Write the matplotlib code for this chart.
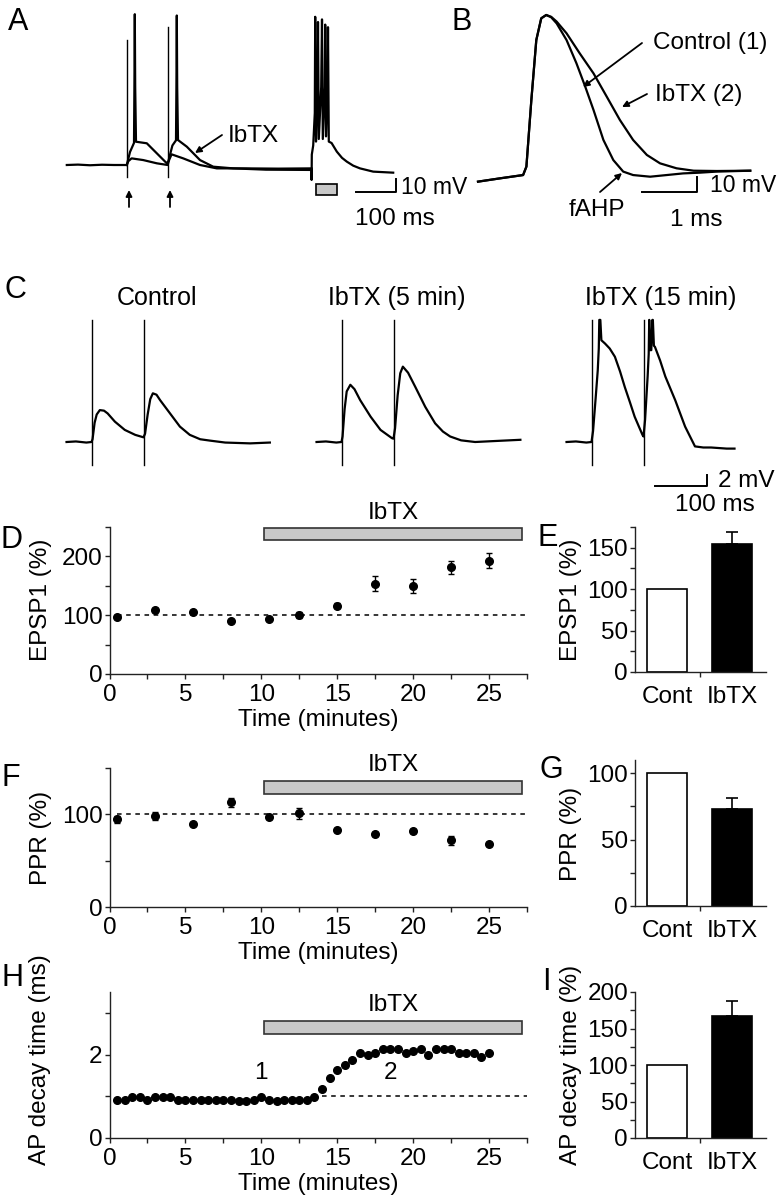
import matplotlib
matplotlib.use("Agg")
import matplotlib.pyplot as plt
from matplotlib.patches import Rectangle
import numpy as np

plt.rcParams['font.family'] = ['Liberation Sans', 'DejaVu Sans']

# ---------------- data ----------------
# A: paired stimulation + current step (ms, mV relative to rest)
a_base_t = [2, 30, 60, 90, 120, 152]
a_base_v = [0, 0.3, -0.2, 0.2, 0, 0]
a_ctrl_t = [152, 156, 164, 193, 227, 254, 258, 264, 293, 335, 377, 450, 530, 614]
a_ctrl_v = [0, 3, 5.1, 3.8, 1.3, 0, 4, 8.2, 5.1, 0, -2.6, -2.6, -2.8, -2.6]
a_ibtx_t = [152, 160, 170, 171, 172, 173, 175, 202, 227, 252, 256, 266, 275, 276,
            277, 278, 280, 302, 335, 368, 418, 500, 614]
a_ibtx_v = [0, 10, 17, 60, 116, 60, 17.9, 16.7, 9, 1.3, 3, 15, 19, 60,
            115, 60, 19.2, 14.1, 3.8, -1.3, -2.6, -3.6, -3.8]
a_burst_t = [614, 614, 614.5, 618, 622, 623, 625, 629, 630, 632, 638, 640, 642,
             647, 648, 650, 654, 655, 657, 664, 677, 690, 702, 718, 735, 768, 818]
a_burst_v = [-3.8, -11.5, 8, 15, 40, 114, 18, 60, 110, 20, 60, 112, 20,
             60, 108, 22, 60, 106, 18, 16.9, 10.3, 5.5, 2.6, -0.5, -2.6, -5.1, -5.9]
a_stim_t = [152, 255]
a_stim_top = [96, 106]

# B: single action potentials (ms, mV)
b_rise_t = [0, 0.40, 0.82, 0.88, 0.97, 1.06, 1.15, 1.24]
b_rise_v = [-1.1, 1.1, 3.3, 8.9, 53.3, 93.3, 107.8, 110]
b_ctrl_t = [1.33, 1.43, 1.61, 1.79, 1.95, 2.10, 2.28, 2.46, 2.64, 2.82, 3.13, 3.43, 3.73, 4.04, 4.34, 4.95]
b_ctrl_v = [108.5, 104.4, 93.3, 77.8, 62.2, 46.7, 26.7, 13.3, 5.6, 3.3, 2.2, 3.3, 4.4, 4.9, 5.6, 6.2]
b_ibtx_t = [1.33, 1.43, 1.61, 1.85, 2.10, 2.34, 2.58, 2.82, 3.07, 3.31, 3.61, 3.92, 4.34, 4.95]
b_ibtx_v = [108.8, 105.6, 97.8, 84.4, 71.1, 55.6, 40, 26.7, 16.7, 11.1, 7.8, 6.2, 6.0, 6.2]

# C: EPSP pairs (ms from first stimulus, mV)
c_titles = ['Control', 'IbTX (5 min)', 'IbTX (15 min)']
c_ctrl_t = [-48, -30, -10, 0, 2, 6, 10, 16, 24, 31, 45, 64, 84, 100, 103, 108, 113,
            118, 125, 132, 151, 170, 189, 209, 228, 257, 305, 343]
c_ctrl_v = [0, 0.1, -0.1, 0, 0.5, 3.5, 5.0, 5.8, 5.7, 5.2, 3.7, 2.2, 1.3, 0.85, 1.5, 5.0, 7.8,
            8.85, 8.6, 7.6, 5.2, 2.8, 1.3, 0.5, 0.25, -0.1, -0.25, -0.1]
c_ib5_t = [-48, -30, -10, 0, 2, 6, 10, 17, 25, 36, 56, 75, 97, 100, 103, 108, 113, 118,
           128, 142, 161, 180, 195, 209, 230, 257, 300, 344]
c_ib5_v = [0, 0.1, -0.1, 0, 1, 6, 9.2, 10.4, 9.6, 7.6, 4.6, 2.2, 0.7, 0.6, 2.5, 8.5, 12.5, 13.7,
           12.6, 10, 6.4, 3.4, 1.9, 1, 0.3, 0, 0.2, 0.4]
c_ib15_t = [-48, -30, -10, 0, 3, 8, 12, 14, 15, 17, 19, 26, 35, 45, 55, 64, 74, 83, 98, 100, 103, 108,
            110, 111, 113, 115, 117, 118, 120, 122, 132, 142, 161, 180, 199, 215, 230, 260, 275]
c_ib15_v = [0, 0.1, -0.1, 0, 2, 8, 13, 17, 22.2, 22.2, 18.5, 17.9, 17.0, 15.5, 12.8, 10, 7.2, 4.6, 1.3, 1, 4, 12,
            16, 22.2, 16.7, 16.7, 22.2, 22.2, 17.5, 17.3, 14.8, 11.9, 7.6, 2.8, -0.8, -1.0, -1.0, -1.2, -1.2]
c_stim_t = [0, 100]

# D / F: time course (min, %)
tc_time = [0.5, 3, 5.5, 8, 10.5, 12.5, 15, 17.5, 20, 22.5, 25]
epsp1 = [97.5, 108.7, 104.7, 89.6, 93.6, 100.3, 116, 153.5, 149.6, 181.5, 192.7]
epsp1_err = [2, 3, 2, 2, 2, 5, 4, 12.6, 12.6, 10.6, 13]
ppr = [94.6, 98, 90, 113, 97, 101, 83, 79, 82, 72, 68]
ppr_err = [4, 4, 2, 5, 2, 6, 2, 2, 2, 5, 2]
ibtx_start, ibtx_end = 10.2, 27.2

# H: AP decay time (min, ms)
ap_time = [0.5 * i for i in range(1, 51)]
ap_decay = [0.92, 0.92, 0.98, 0.98, 0.92, 0.98, 0.98, 0.98, 0.92, 0.92,
            0.92, 0.92, 0.92, 0.92, 0.92, 0.92, 0.88, 0.88, 0.92, 0.98,
            0.92, 0.88, 0.92, 0.92, 0.92, 0.92, 0.98, 1.18, 1.44, 1.64,
            1.74, 1.88, 2.04, 2.00, 2.04, 2.14, 2.14, 2.14, 2.04, 2.09,
            2.14, 2.00, 2.14, 2.14, 2.14, 2.04, 2.04, 2.04, 1.94, 2.04]

# E / G / I: summary bars
groups = ['Cont', 'IbTX']
e_vals, e_err = [100, 154], [0, 15]
g_vals, g_err = [100, 73], [0, 8]
i_vals, i_err = [100, 167], [0, 20]

# ---------------- figure ----------------
W, H = 779, 1199
fig = plt.figure(figsize=(W / 100, H / 100), dpi=100)
FS = 17.5
LW = 1.6


def px_axes(x0, y0, x1, y1):
    return fig.add_axes([x0 / W, 1 - y1 / H, (x1 - x0) / W, (y1 - y0) / H])


def trace_axes(x0, y0, x1, y1, ox, oy, sx, sy):
    # ox, oy = pixel of the data origin, sx, sy = pixels per unit
    ax = px_axes(x0, y0, x1, y1)
    ax.set_xlim((x0 - ox) / sx, (x1 - ox) / sx)
    ax.set_ylim((oy - y1) / sy, (oy - y0) / sy)
    ax.axis('off')
    return ax


def style(ax):
    for s in ['top', 'right']:
        ax.spines[s].set_visible(False)
    for s in ['left', 'bottom']:
        ax.spines[s].set_linewidth(1.0)
        ax.spines[s].set_color('#222222')
    ax.tick_params(which='both', direction='out', length=3.5, width=1,
                   labelsize=FS, pad=1.5, color='#222222')
    ax.tick_params(axis='x', pad=4)
    ax.patch.set_visible(False)


# A
axA = trace_axes(55, 0, 479, 235, 66, 165, 0.4, 1.3)
axA.plot(a_base_t, a_base_v, color='k', lw=LW)
axA.plot(a_ctrl_t, a_ctrl_v, color='k', lw=LW)
axA.plot(a_ibtx_t, a_ibtx_v, color='k', lw=LW)
axA.plot(a_burst_t, a_burst_v, color='k', lw=LW)
for t, top in zip(a_stim_t, a_stim_top):
    axA.plot([t, t], [-9, top], color='k', lw=1.0)
axA.plot([725, 825, 825], [-20.8, -20.8, -10.8], color='k', lw=1.4, clip_on=False)
axA.add_patch(Rectangle((625, -23.1), 52, 8.5, fc='#c8c8c8', ec='k', lw=1.2))

# B
axB = trace_axes(470, 0, 779, 235, 478, 180, 55, 1.5)
axB.plot(b_rise_t + b_ctrl_t, b_rise_v + b_ctrl_v, color='k', lw=LW)
axB.plot(b_rise_t + b_ibtx_t, b_rise_v + b_ibtx_v, color='k', lw=LW)
axB.plot([2.98, 3.98, 3.98], [-8, -8, 2], color='k', lw=1.4, clip_on=False)

# C
c_data = [(c_ctrl_t, c_ctrl_v), (c_ib5_t, c_ib5_v), (c_ib15_t, c_ib15_v)]
c_stim_x = [91.5, 341.5, 591.5]
axC = []
for (tt, vv), sx in zip(c_data, c_stim_x):
    ax = trace_axes(sx - 31, 318, min(sx + 200, W), 520, sx, 442, 0.52, 5.5)
    ax.plot(tt, vv, color='k', lw=LW)
    for t in c_stim_t:
        ax.plot([t, t], [-4.2, 22.2], color='k', lw=1.0)
    axC.append(ax)
axC[2].plot([122, 222, 222], [-8, -8, -6], color='k', lw=1.4, clip_on=False)


# D, F, H time courses
def time_axes(y0, y1, ylim, major, minor, bar):
    ax = px_axes(109.5, y0, 527, y1)
    ax.set_xlim(0, 27.5)
    ax.set_ylim(*ylim)
    ax.set_xticks(range(0, 26, 5))
    ax.set_xticks(np.arange(2.5, 28, 5), minor=True)
    ax.set_yticks(major)
    ax.set_yticks(minor, minor=True)
    style(ax)
    ax.add_patch(Rectangle((ibtx_start, bar[0]), ibtx_end - ibtx_start, bar[1] - bar[0],
                           fc='#c8c8c8', ec='#333333', lw=1.2, clip_on=False))
    ax.text((ibtx_start + ibtx_end) / 2, bar[1] + (ylim[1] - ylim[0]) * 0.03, 'IbTX',
            ha='center', va='bottom', fontsize=FS)
    ax.set_xlabel('Time (minutes)', fontsize=FS, labelpad=2)
    return ax


axD = time_axes(527, 674, (0, 250), [0, 100, 200], [50, 150, 250], (228, 248))
axD.axhline(100, xmin=0.5 / 27.5, color='k', lw=1.1, ls=(0, (3, 3)))
axD.errorbar(tc_time, epsp1, yerr=epsp1_err, fmt='o', color='k', ms=5.5,
             capsize=2.5, elinewidth=1, capthick=1)

axF = time_axes(768, 907, (0, 150), [0, 100], [50, 150], (121.5, 136.5))
axF.axhline(100, xmin=0.5 / 27.5, color='k', lw=1.1, ls=(0, (3, 3)))
axF.errorbar(tc_time, ppr, yerr=ppr_err, fmt='o', color='k', ms=5.5,
             capsize=2.5, elinewidth=1, capthick=1)

axH = time_axes(992, 1138, (0, 3.5), [0, 2], [1, 3], (2.5, 2.81))
axH.axhline(1, xmin=14 / 27.5, color='k', lw=1.1, ls=(0, (3, 3)))
axH.plot(ap_time, ap_decay, 'o', color='k', ms=5.5)
axH.text(10.0, 1.57, '1', ha='center', va='center', fontsize=FS)
axH.text(18.5, 1.57, '2', ha='center', va='center', fontsize=FS)


# E, G, I bars
def bar_axes(y0, y1, vals, err, ylim, major, minor):
    ax = px_axes(635, y0, 766, y1)
    ax.bar([0, 1], vals, width=0.615, color=['white', 'black'], edgecolor='black', lw=1.2)
    ax.errorbar([1], [vals[1]], yerr=[[0], [err[1]]], fmt='none', ecolor='black',
                elinewidth=1.2, capsize=4, capthick=1.2)
    ax.set_xlim(-0.5, 1.52)
    ax.set_ylim(*ylim)
    ax.set_yticks(major)
    ax.set_yticks(minor, minor=True)
    ax.set_xticks([0, 1])
    ax.set_xticklabels(groups)
    ax.set_xticks([0.5], minor=True)
    style(ax)
    ax.tick_params(axis='x', which='major', length=0, pad=10)
    return ax


axE = bar_axes(527, 672, e_vals, e_err, (0, 175), [0, 50, 100, 150], [25, 75, 125, 175])
axG = bar_axes(760, 906, g_vals, g_err, (0, 110), [0, 50, 100], [25, 75])
axI = bar_axes(992, 1138, i_vals, i_err, (0, 200), [0, 50, 100, 150, 200], [25, 75, 125, 175])

# ---------------- overlay text ----------------
ov = px_axes(0, 0, W, H)
ov.set_xlim(0, W)
ov.set_ylim(H, 0)
ov.axis('off')


def T(x, y, s, size=FS, **kw):
    ov.text(x, y, s, fontsize=size, ha=kw.pop('ha', 'center'), va=kw.pop('va', 'center'), **kw)


def arrow(x0, y0, x1, y1, head=True):
    ov.annotate('', xy=(x1, y1), xytext=(x0, y0),
                arrowprops=dict(arrowstyle='-|>' if head else '-', lw=1.3, color='k',
                                mutation_scale=9, shrinkA=0, shrinkB=0))


for lab, x, y in [('A', 18, 22), ('B', 462, 22), ('C', 15, 290), ('D', 12, 540),
                  ('E', 548, 538), ('F', 11, 778), ('G', 551, 770), ('H', 13, 978),
                  ('I', 546, 982)]:
    T(x, y, lab, size=22)

T(253, 136, 'IbTX')
arrow(222, 135, 195, 153)
for x in [129, 170]:
    arrow(x, 207, x, 190)
T(401, 188, '10 mV', size=16.5, ha='left')
T(395, 219, '100 ms')

T(653, 43, 'Control (1)', ha='left')
arrow(642, 43, 583, 87)
T(655, 95, 'IbTX (2)', ha='left')
arrow(647, 94, 622, 107)
T(597, 210, 'fAHP')
arrow(600, 192, 622, 173)
T(776, 186, '10 mV', size=16.5, ha='right')
T(696, 220, '1 ms')

for s, x in zip(c_titles, [157, 397, 661]):
    T(x, 298, s, size=18)
T(718, 481, '2 mV', ha='left')
T(715, 505, '100 ms')

for s, x, y in [('EPSP1 (%)', 41, 600), ('PPR (%)', 41, 838), ('AP decay time (ms)', 40, 1060),
                ('EPSP1 (%)', 571, 600), ('PPR (%)', 571, 834), ('AP decay time (%)', 571, 1065)]:
    T(x, y, s, rotation=90)

fig.savefig('out.png', dpi=100)
